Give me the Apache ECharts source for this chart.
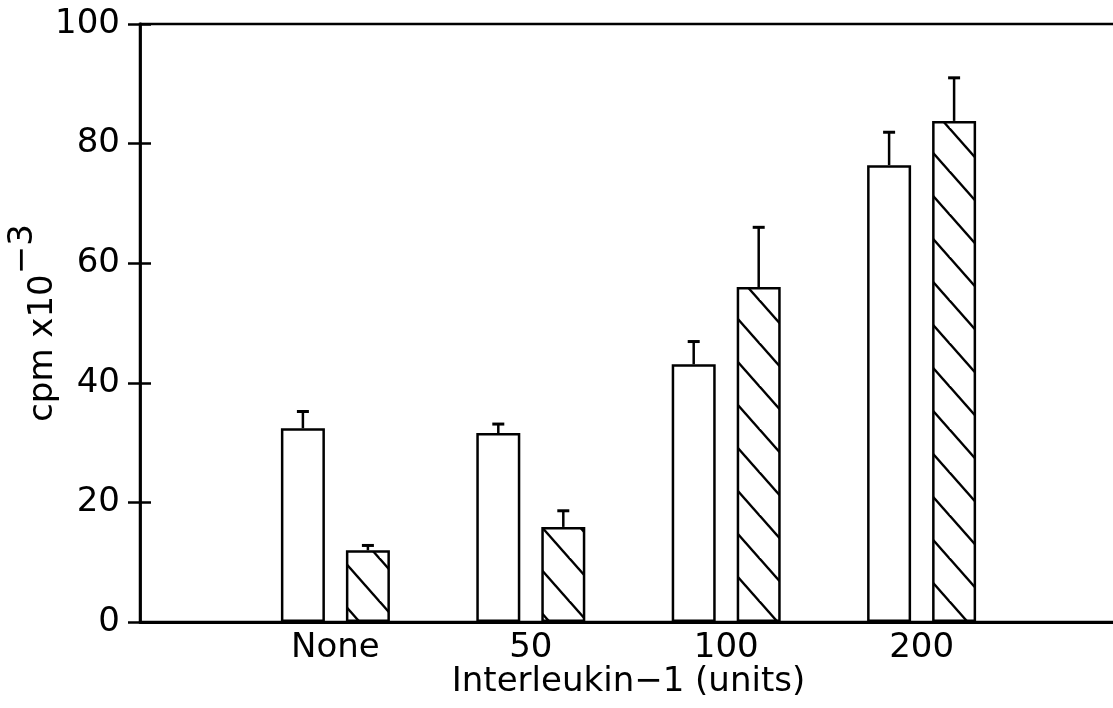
<!DOCTYPE html>
<html>
<head>
<meta charset="utf-8">
<script src="https://cdn.jsdelivr.net/npm/echarts@6/dist/echarts.min.js"></script>
<style>
html,body{margin:0;padding:0;background:#fff;}
#c{width:1113px;height:708px;}
</style>
</head>
<body>
<div id="c"></div>
<script>
// ---- data ----
var categories = ['', 'None', '50', '100', '200', ''];
var openValues = [null, 32.4, 31.6, 43.1, 76.4, null];
var openErrTop = [null, 35.2, 33.1, 46.9, 81.9, null];
var hatchValues = [null, 12.0, 15.9, 56.0, 83.8, null];
var hatchErrTop = [null, 12.8, 18.6, 66.0, 91.0, null];
var yTicks = [0, 20, 40, 60, 80, 100];

// ---- styles ----
var FONT = 'DejaVu Sans';
var BAR_W = 44;
var BAR_GAP_PX = 21;
var OFFSET = (BAR_W + BAR_GAP_PX) / 2;

function hatchPattern() {
  var W = 38, H = 43;
  var cv = document.createElement('canvas');
  cv.width = W; cv.height = H;
  var ctx = cv.getContext('2d');
  ctx.fillStyle = '#fff';
  ctx.fillRect(0, 0, W, H);
  ctx.strokeStyle = '#000';
  ctx.lineWidth = 2.4;
  [-W, 0, W].forEach(function (dx) {
    ctx.beginPath();
    ctx.moveTo(dx - W, -H);
    ctx.lineTo(dx + 2 * W, 2 * H);
    ctx.stroke();
  });
  return cv;
}

function errorSeries(values, tops, sign) {
  var data = [];
  for (var i = 0; i < categories.length; i++) {
    if (values[i] != null) data.push([i, values[i], tops[i]]);
  }
  return {
    type: 'custom',
    z: 5,
    data: data,
    renderItem: function (params, api) {
      var x = api.value(0);
      var p0 = api.coord([x, api.value(1)]);
      var p1 = api.coord([x, api.value(2)]);
      var cx = p0[0] + sign * OFFSET;
      var cap = 6;
      return {
        type: 'group',
        children: [
          { type: 'line', shape: { x1: cx, y1: p0[1], x2: cx, y2: p1[1] },
            style: { stroke: '#000', lineWidth: 2.5 } },
          { type: 'line', shape: { x1: cx - cap, y1: p1[1], x2: cx + cap, y2: p1[1] },
            style: { stroke: '#000', lineWidth: 3 } }
        ]
      };
    }
  };
}

var chart = echarts.init(document.getElementById('c'), null, { renderer: 'canvas' });
var axisLabelStyle = { color: '#000', fontFamily: FONT, fontSize: 34 };

chart.setOption({
  animation: false,
  backgroundColor: '#fff',
  grid: {
    left: 140, width: 977, top: 24, bottom: 86,
    containLabel: false,
    outerBoundsMode: 'none',
    show: true, borderColor: '#000', borderWidth: 2.5, backgroundColor: 'transparent'
  },
  xAxis: {
    type: 'category',
    data: categories,
    boundaryGap: false,
    axisLine: { lineStyle: { color: '#000', width: 2.8 } },
    axisTick: { show: false },
    axisLabel: Object.assign({ margin: 9, interval: 0 }, axisLabelStyle),
    splitLine: { show: false },
    name: 'Interleukin\u22121 (units)',
    nameLocation: 'middle',
    nameGap: 43,
    nameMoveOverlap: false,
    nameTextStyle: { color: '#000', fontFamily: FONT, fontSize: 34 }
  },
  yAxis: [{
    type: 'value',
    min: yTicks[0], max: yTicks[yTicks.length - 1], interval: 20,
    axisLine: { show: true, lineStyle: { color: '#000', width: 2.8 } },
    axisTick: { show: true, length: 12, lineStyle: { color: '#000', width: 2.5 } },
    axisLabel: Object.assign({ margin: 20 }, axisLabelStyle),
    splitLine: { show: false },
    name: '{a|cpm x10}{b|\u22123}',
    nameLocation: 'middle',
    nameRotate: 90,
    nameGap: 80,
    nameMoveOverlap: false,
    nameTextStyle: {
      color: '#000', fontFamily: FONT, fontSize: 34,
      rich: {
        a: { color: '#000', fontFamily: FONT, fontSize: 34, lineHeight: 54, verticalAlign: 'bottom' },
        b: { color: '#000', fontFamily: FONT, fontSize: 34, lineHeight: 34, verticalAlign: 'top' }
      }
    }
  }, {
    type: 'value',
    position: 'left',
    min: yTicks[0], max: yTicks[yTicks.length - 1], interval: 20,
    axisLine: { show: false },
    axisTick: { show: true, inside: true, length: 11, lineStyle: { color: '#000', width: 2.5 } },
    axisLabel: { show: false },
    splitLine: { show: false }
  }],
  series: [{
    type: 'bar',
    data: openValues,
    barWidth: BAR_W,
    barGap: (BAR_GAP_PX / BAR_W * 100) + '%',
    itemStyle: { color: '#fff', borderColor: '#000', borderWidth: 2.5 }
  }, {
    type: 'bar',
    data: hatchValues,
    barWidth: BAR_W,
    itemStyle: { color: { image: hatchPattern(), repeat: 'repeat' }, borderColor: '#000', borderWidth: 2.5 }
  },
  errorSeries(openValues, openErrTop, -1),
  errorSeries(hatchValues, hatchErrTop, 1)]
});
</script>
</body>
</html>
